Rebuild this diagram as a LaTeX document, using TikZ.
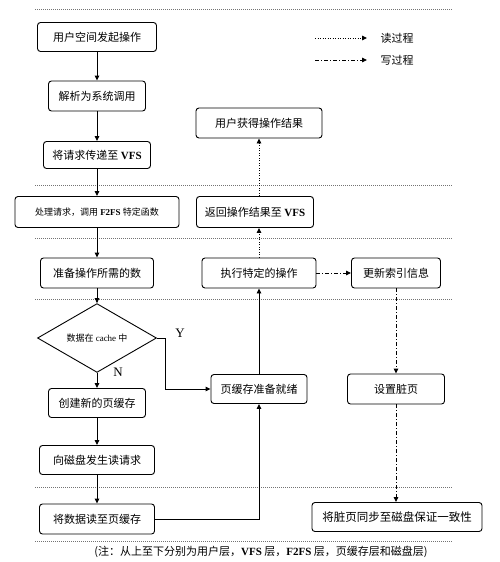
\documentclass[tikz,border=0pt]{standalone}
\usepackage{fontspec}
\setmainfont{Liberation Serif}
\newfontfamily\cjk{Noto Sans CJK SC}
\usetikzlibrary{shapes.geometric,arrows.meta}
\newcommand\latb[1]{{\rmfamily\bfseries #1}}
\begin{document}
\begin{tikzpicture}[x=1pt,y=-1pt,
  box/.style={draw, line width=0.9pt, rounded corners=3pt, inner sep=0pt, minimum height=29pt, font=\fontsize{11}{13}\selectfont\cjk},
  sep/.style={draw=black!55, line width=0.7pt, dash pattern=on 0.8pt off 1.2pt},
  flow/.style={line width=0.9pt, -{Triangle[length=5pt,width=4.5pt]}},
  rd/.style={flow, dash pattern=on 1pt off 1.5pt},
  wr/.style={flow, dash pattern=on 4pt off 2pt on 1pt off 2pt}]
\useasboundingbox[fill=white] (0,0) rectangle (500,562);

% separators
\foreach \yy in {9,185,238,299,487,541}
  \draw[sep] (35,\yy) -- (452,\yy);

% legend
\coordinate (la1) at (315,38); \coordinate (lb1) at (367,38);
\coordinate (la2) at (315,60); \coordinate (lb2) at (367,60);
\draw[rd] (la1) -- (lb1);
\draw[wr] (la2) -- (lb2);
\node[anchor=west, font=\fontsize{11}{13}\selectfont\cjk] (lt1) at (377,38) {读过程};
\node[anchor=west, font=\fontsize{11}{13}\selectfont\cjk] (lt2) at (377,60) {写过程};

% left column
\node[box, minimum width=119pt] (u1) at (97,37) {用户空间发起操作};
\node[box, minimum width=97pt, minimum height=30pt] (u2) at (97,96) {解析为系统调用};
\node[box, minimum width=107pt, minimum height=27pt] (u3) at (97,155) {将请求传递至 \latb{VFS}};
\node[box, minimum width=164pt, minimum height=31pt, font=\fontsize{9}{11}\selectfont\cjk] (f2) at (97,212) {处理请求，调用 \latb{F2FS} 特定函数};
\node[box, minimum width=113pt, minimum height=30pt] (prep) at (97,273) {准备操作所需的数};
\node[draw, diamond, line width=0.9pt, inner sep=0pt, minimum width=119pt, minimum height=47pt, font=\fontsize{9}{11}\selectfont\cjk] (dia) at (97,338) {数据在 {\rmfamily cache} 中};
\node[box, minimum width=97pt] (create) at (97,403) {创建新的页缓存};
\node[box, minimum width=115pt] (req) at (97,460) {向磁盘发生读请求};
\node[box, minimum width=115pt, minimum height=30pt] (readc) at (97,519) {将数据读至页缓存};

\node[font=\fontsize{13}{15}\selectfont] (ylab) at (180,333) {Y};
\node[font=\fontsize{13}{15}\selectfont] (nlab) at (118,372) {N};

% middle column
\node[box, minimum width=126pt, minimum height=30pt] (usr) at (259,123) {用户获得操作结果};
\node[box, minimum width=117pt, minimum height=31pt] (ret) at (255,212) {返回操作结果至 \latb{VFS}};
\node[box, minimum width=114pt, minimum height=30pt] (exec) at (259,273) {执行特定的操作};
\node[box, minimum width=96pt, minimum height=29pt] (ready) at (259,389) {页缓存准备就绪};

% right column
\node[box, minimum width=89pt, minimum height=30pt] (upd) at (396,273) {更新索引信息};
\node[box, minimum width=97pt, minimum height=30pt] (dirty) at (396,389) {设置脏页};
\node[box, minimum width=170pt, minimum height=29pt, font=\fontsize{11.5}{13}\selectfont\cjk] (sync) at (397,517) {将脏页同步至磁盘保证一致性};

% connectors
\draw[flow] (u1) -- (u2);
\draw[flow] (u2) -- (u3);
\draw[flow] (u3) -- (f2);
\draw[flow] (f2) -- (prep);
\draw[flow] (prep) -- (dia);
\draw[flow] (dia) -- (create);
\draw[flow] (create) -- (req);
\draw[flow] (req) -- (readc);
\draw[flow] (dia.east) -- ++(8,0) |- (ready.west);
\draw[flow] (readc.east) -| (ready.south);
\draw[flow] (ready) -- (exec);
\draw[rd] (exec.north) -- (exec.north |- ret.south);
\draw[rd] (ret.north -| exec.north) -- (exec.north |- usr.south);
\draw[wr] (exec) -- (upd);
\draw[wr] (upd) -- (dirty);
\draw[wr] (dirty.south) -- (dirty.south |- sync.north);

% caption
\node[font=\fontsize{11}{13}\selectfont\cjk] (cap) at (261,552) {({注：从上至下分别为用户层，}\latb{VFS} 层，\latb{F2FS} 层，页缓存层和磁盘层)};
\end{tikzpicture}
\end{document}
